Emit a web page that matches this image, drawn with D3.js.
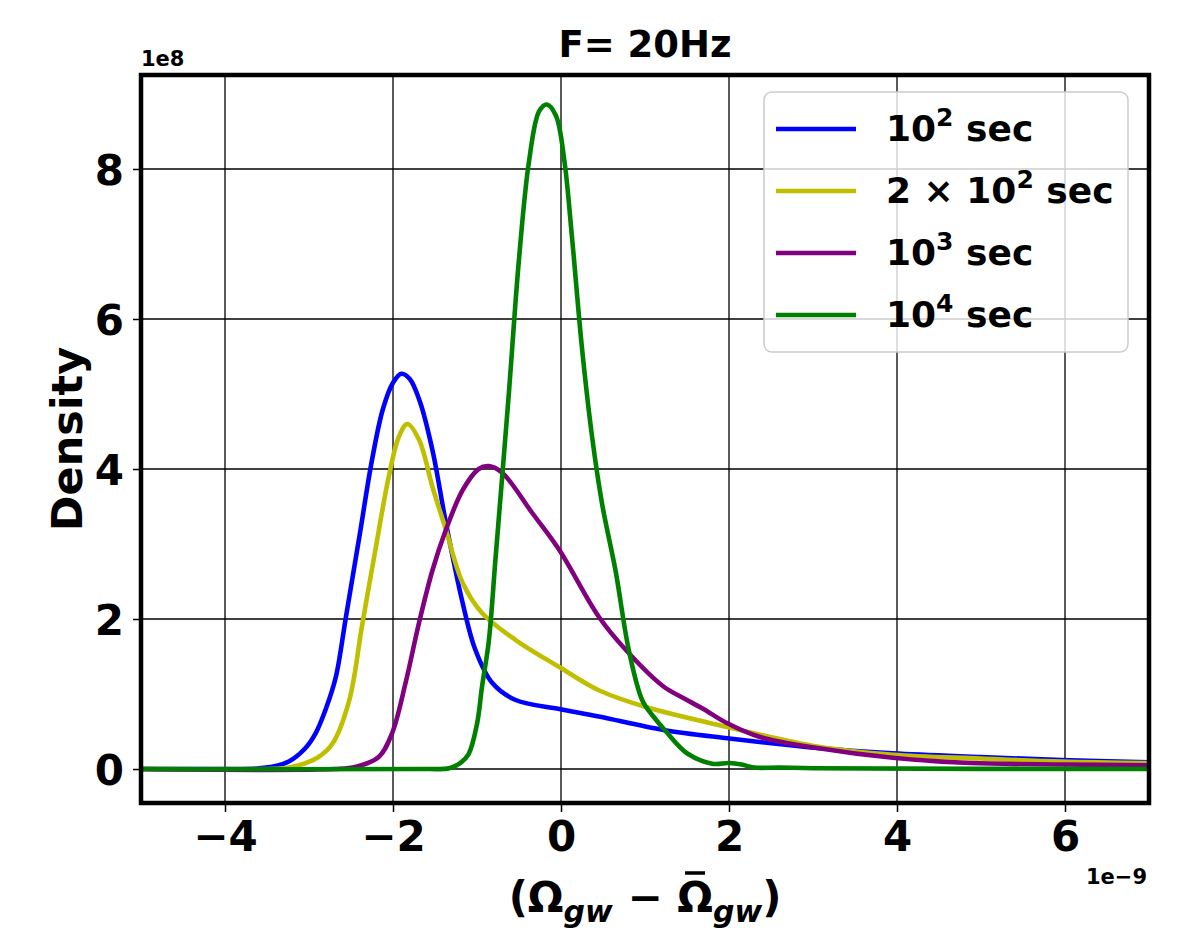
<!DOCTYPE html>
<html>
<head>
<meta charset="utf-8">
<script src="https://cdn.jsdelivr.net/npm/d3@7"></script>
<style>
  body { margin: 0; background: #fff; }
  text { font-family: "DejaVu Sans", sans-serif; font-weight: bold; fill: #000; }
</style>
</head>
<body>
<div id="chart"></div>
<script>
// x values in units of 1e-9, density in units of 1e8
var blueX = [-5, -4, -3.6, -3.4, -3.24, -3.05, -2.92, -2.8, -2.68, -2.56, -2.40, -2.25, -2.12, -2.0, -1.9, -1.8, -1.68, -1.53, -1.37, -1.17, -1.02, -0.82, -0.54, -0.02, 0.45, 1.22, 1.98, 3.05, 3.95, 5.0, 5.96, 7];
var blueY = [0, 0, 0.01, 0.04, 0.1, 0.27, 0.48, 0.8, 1.23, 2.03, 3.1, 4.12, 4.8, 5.15, 5.27, 5.2, 4.9, 4.25, 3.28, 2.21, 1.59, 1.15, 0.92, 0.80, 0.70, 0.52, 0.41, 0.28, 0.21, 0.16, 0.12, 0.09];

var yellowX = [-5, -3.6, -3.3, -3.12, -2.9, -2.72, -2.52, -2.37, -2.21, -2.05, -1.93, -1.83, -1.69, -1.53, -1.37, -1.17, -0.94, -0.54, -0.02, 0.45, 1.0, 1.98, 3.05, 3.95, 5.0, 5.96, 7];
var yellowY = [0, 0, 0.01, 0.05, 0.15, 0.34, 0.92, 1.9, 2.92, 3.9, 4.43, 4.6, 4.39, 3.76, 3.19, 2.48, 2.08, 1.72, 1.36, 1.05, 0.83, 0.56, 0.30, 0.19, 0.14, 0.10, 0.08];

var purpleX = [-5, -2.7, -2.44, -2.17, -2.01, -1.85, -1.69, -1.53, -1.37, -1.17, -0.98, -0.86, -0.70, -0.34, -0.02, 0.45, 0.77, 1.22, 1.45, 1.68, 1.98, 2.36, 3.05, 3.95, 4.87, 6.0, 7];
var purpleY = [0, 0, 0.03, 0.16, 0.48, 1.15, 1.95, 2.65, 3.19, 3.72, 4.0, 4.04, 3.95, 3.41, 2.92, 2.03, 1.59, 1.1, 0.95, 0.81, 0.61, 0.43, 0.28, 0.15, 0.08, 0.06, 0.05];

var greenX = [-5, -1.6, -1.33, -1.2, -1.1, -1.0, -0.94, -0.86, -0.78, -0.70, -0.62, -0.50, -0.38, -0.26, -0.17, -0.06, 0.04, 0.13, 0.25, 0.37, 0.49, 0.65, 0.81, 0.97, 1.1, 1.25, 1.5, 1.8, 2.0, 2.15, 2.3, 2.6, 3, 7];
var greenY = [0, 0, 0.01, 0.08, 0.2, 0.6, 1.1, 1.7, 2.8, 3.9, 5.02, 6.8, 8.11, 8.77, 8.86, 8.71, 8.11, 7.1, 5.61, 4.43, 3.53, 2.64, 1.57, 0.91, 0.7, 0.5, 0.21, 0.07, 0.08, 0.06, 0.02, 0.02, 0.01, 0];

var seriesNames = ['10|2| sec', '2 × 10|2| sec', '10|3| sec', '10|4| sec'];
var seriesColors = ['#0000ff', '#bfbf00', '#800080', '#008000'];
var xTicks = [-4, -2, 0, 2, 4, 6];
var yTicks = [0, 2, 4, 6, 8];

var series = [
  {x: blueX, y: blueY},
  {x: yellowX, y: yellowY},
  {x: purpleX, y: purpleY},
  {x: greenX, y: greenY}
];

var W = 1196, H = 938;
var plotL = 141, plotR = 1149, plotT = 75, plotB = 803;

var svg = d3.select('#chart').append('svg')
  .attr('width', W)
  .attr('height', H);

var x = d3.scaleLinear().domain([-5, 7]).range([plotL, plotR]);
var y = d3.scaleLinear().domain([-0.453, 9.253]).range([plotB, plotT]);

svg.append('clipPath').attr('id', 'clip')
  .append('rect')
  .attr('x', plotL).attr('y', plotT)
  .attr('width', plotR - plotL).attr('height', plotB - plotT);

//grid
var grid = svg.append('g');
grid.selectAll('.vg').data(xTicks).enter().append('line')
  .attr('x1', d => x(d)).attr('x2', d => x(d))
  .attr('y1', plotT).attr('y2', plotB)
  .attr('stroke', '#000').attr('stroke-width', 1.3);
grid.selectAll('.hg').data(yTicks).enter().append('line')
  .attr('x1', plotL).attr('x2', plotR)
  .attr('y1', d => y(d)).attr('y2', d => y(d))
  .attr('stroke', '#000').attr('stroke-width', 1.3);

//axes
var xAxis = d3.axisBottom(x).tickValues(xTicks).tickSize(9).tickPadding(7)
  .tickFormat(d => d < 0 ? '\u2212' + Math.abs(d) : d);
var gx = svg.append('g').attr('transform', `translate(0, ${plotB})`).call(xAxis);
gx.select('.domain').remove();
gx.selectAll('line').attr('stroke', '#000').attr('stroke-width', 1.5);
gx.selectAll('text').style('font-size', '42px').attr('dy', '0.76em');

var yAxis = d3.axisLeft(y).tickValues(yTicks).tickSize(8).tickPadding(9);
var gy = svg.append('g').attr('transform', `translate(${plotL}, 0)`).call(yAxis);
gy.select('.domain').remove();
gy.selectAll('line').attr('stroke', '#000').attr('stroke-width', 1.5);
gy.selectAll('text').style('font-size', '42px').attr('dy', '0.36em');

//lines
var line = d3.line()
  .x(d => x(d[0]))
  .y(d => y(d[1]))
  .curve(d3.curveCatmullRom.alpha(0.5));

svg.append('g').attr('clip-path', 'url(#clip)')
  .selectAll('path')
  .data(series)
  .enter()
  .append('path')
  .attr('d', s => line(s.x.map((v, i) => [v, s.y[i]])))
  .attr('fill', 'none')
  .attr('stroke', (s, i) => seriesColors[i])
  .attr('stroke-width', 4.6)
  .attr('stroke-linejoin', 'round');

//frame
svg.append('rect')
  .attr('x', plotL).attr('y', plotT)
  .attr('width', plotR - plotL).attr('height', plotB - plotT)
  .attr('fill', 'none').attr('stroke', '#000').attr('stroke-width', 4.5);

//legend
var legend = svg.append('g');
legend.append('rect')
  .attr('x', 764).attr('y', 92)
  .attr('width', 364).attr('height', 260)
  .attr('rx', 8)
  .attr('fill', 'rgba(255,255,255,0.8)')
  .attr('stroke', '#cccccc').attr('stroke-width', 1.5);

var items = legend.selectAll('.item').data(seriesNames).enter().append('g')
  .attr('transform', (d, i) => `translate(0, ${129 + i * 62})`);
items.append('line')
  .attr('x1', 776).attr('x2', 856)
  .attr('stroke', (d, i) => seriesColors[i])
  .attr('stroke-width', 4.6);
items.append('text')
  .attr('x', 886).attr('y', 12)
  .style('font-size', '36px')
  .each(function(d) {
    var parts = d.split('|');
    var t = d3.select(this);
    t.append('tspan').text(parts[0]);
    t.append('tspan').attr('dy', -15).style('font-size', '25px').text(parts[1]);
    t.append('tspan').attr('dy', 15).text(parts[2]);
  });

//title
svg.append('text')
  .attr('x', (plotL + plotR) / 2).attr('y', 57)
  .attr('text-anchor', 'middle')
  .style('font-size', '37px')
  .text('F= 20Hz');

//offset labels
svg.append('text').attr('x', plotL).attr('y', 66)
  .style('font-size', '21px').text('1e8');
svg.append('text').attr('x', plotR - 2).attr('y', 884)
  .attr('text-anchor', 'end')
  .style('font-size', '21px').text('1e\u22129');

//y label
svg.append('text')
  .attr('transform', `translate(82, ${(plotT + plotB) / 2}) rotate(-90)`)
  .attr('text-anchor', 'middle')
  .style('font-size', '43px')
  .text('Density');

//x label
var xl = svg.append('text')
  .attr('x', 645).attr('y', 912)
  .attr('text-anchor', 'middle')
  .style('font-size', '42px');
xl.append('tspan').text('(\u03A9');
xl.append('tspan').attr('dy', 10).style('font-size', '30px').style('font-style', 'italic').text('gw');
xl.append('tspan').attr('dy', -10).text(' \u2212 \u03A9');
xl.append('tspan').attr('dy', 10).style('font-size', '30px').style('font-style', 'italic').text('gw');
xl.append('tspan').attr('dy', -10).text(')');

// bar over the second omega
var om = xl.node().getExtentOfChar(7);
svg.append('line')
  .attr('x1', om.x + om.width * 0.22).attr('x2', om.x + om.width * 0.78)
  .attr('y1', 873).attr('y2', 873)
  .attr('stroke', '#000').attr('stroke-width', 3.5);
</script>
</body>
</html>
